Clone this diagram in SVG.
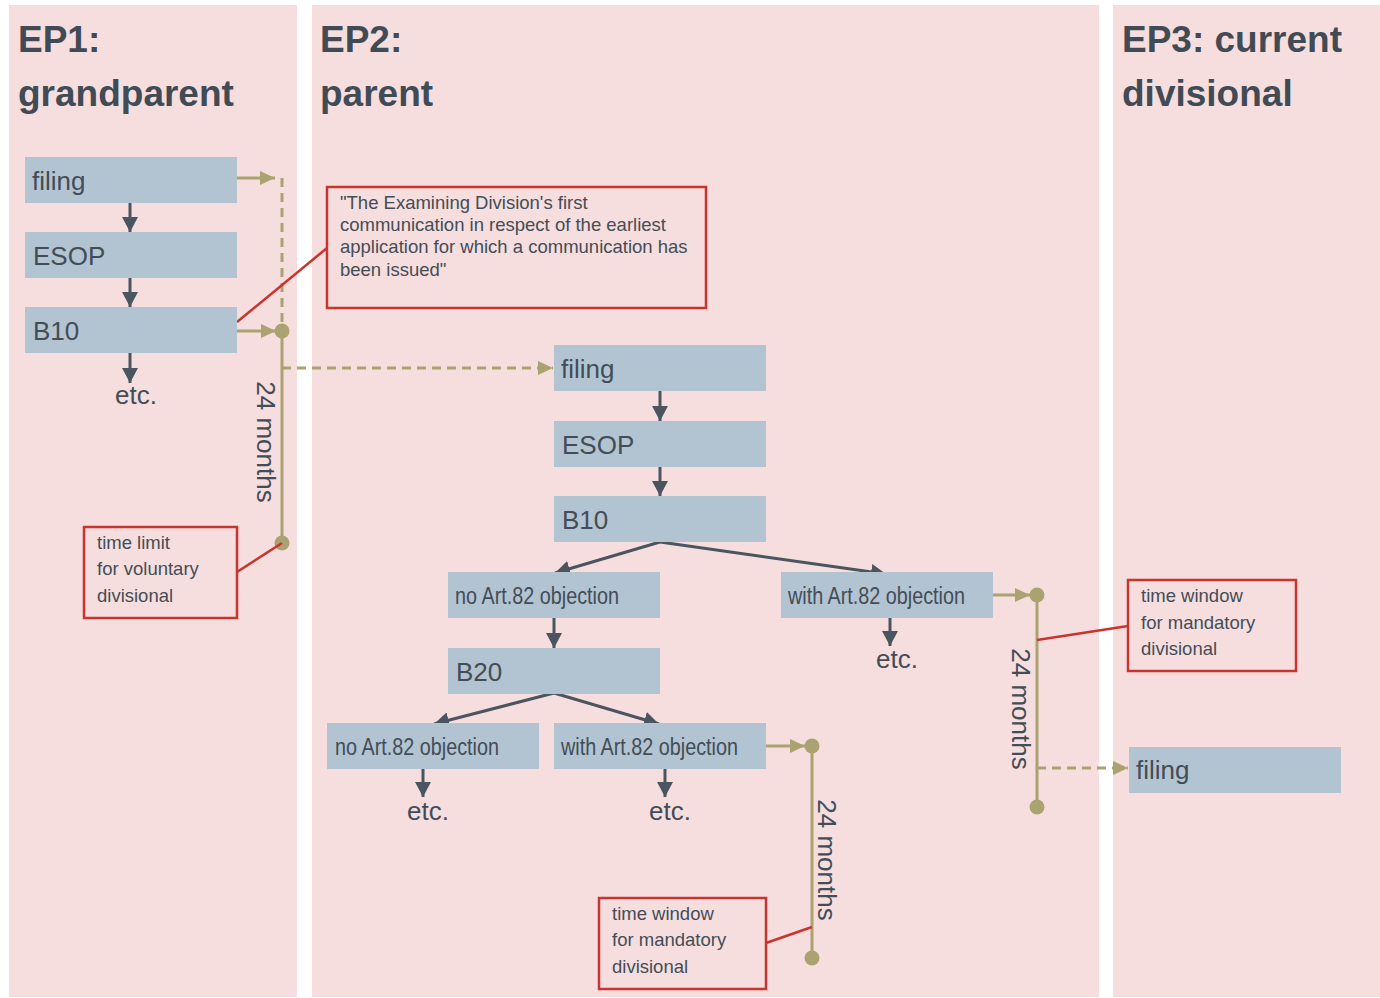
<svg xmlns="http://www.w3.org/2000/svg" width="1380" height="998" viewBox="0 0 1380 998">
<defs>
<style>
.panel{fill:#f6dede}
.box{fill:#b2c4d2}
.h{font-family:"Liberation Sans",Arial,sans-serif;font-weight:bold;font-size:37px;fill:#414b55}
.t{font-family:"Liberation Sans",Arial,sans-serif;font-size:26px;fill:#434d57}
.n{font-family:"Liberation Sans",Arial,sans-serif;font-size:23px;fill:#434d57}
.c{font-family:"Liberation Sans",Arial,sans-serif;font-size:18.5px;fill:#434d57}
.call{fill:none;stroke:#c9342e;stroke-width:2.5}
.rl{stroke:#c9342e;stroke-width:2.5;fill:none}
.dk{stroke:#4a555f;stroke-width:3;fill:none}
.ol{stroke:#aaa271;stroke-width:3;fill:none}
.dash{stroke-dasharray:9,6}
.dot{fill:#aaa271}
</style>
<marker id="ad" markerUnits="userSpaceOnUse" markerWidth="16" markerHeight="16" viewBox="0 0 16 16" refX="15" refY="8" orient="auto"><path d="M0,0 L15,8 L0,16 Z" fill="#4a555f"/></marker>
<marker id="ao" markerUnits="userSpaceOnUse" markerWidth="16" markerHeight="16" viewBox="0 0 16 16" refX="15" refY="8" orient="auto"><path d="M0,1 L15,8 L0,15 Z" fill="#aaa271"/></marker>
</defs>
<rect width="1380" height="998" fill="#ffffff"/>
<g id="panels">
<rect class="panel" x="9" y="5" width="288" height="992"/>
<rect class="panel" x="312" y="5" width="787" height="992"/>
<rect class="panel" x="1113" y="5" width="267" height="992"/>
<text class="h" x="18" y="52">EP1:</text>
<text class="h" x="18" y="106">grandparent</text>
<text class="h" x="320" y="52">EP2:</text>
<text class="h" x="320" y="106">parent</text>
<text class="h" x="1122" y="52">EP3: current</text>
<text class="h" x="1122" y="106">divisional</text>
</g>
<g id="connectors">
<line class="dk" x1="130" y1="203" x2="130" y2="232" marker-end="url(#ad)"/>
<line class="dk" x1="130" y1="278" x2="130" y2="307" marker-end="url(#ad)"/>
<line class="dk" x1="130" y1="353" x2="130" y2="383" marker-end="url(#ad)"/>
<line class="dk" x1="660" y1="391" x2="660" y2="421" marker-end="url(#ad)"/>
<line class="dk" x1="660" y1="467" x2="660" y2="496" marker-end="url(#ad)"/>
<line class="dk" x1="660" y1="542" x2="555" y2="573" marker-end="url(#ad)"/>
<line class="dk" x1="660" y1="542" x2="886" y2="574" marker-end="url(#ad)"/>
<line class="dk" x1="554" y1="618" x2="554" y2="648" marker-end="url(#ad)"/>
<line class="dk" x1="890" y1="618" x2="890" y2="646" marker-end="url(#ad)"/>
<line class="dk" x1="554" y1="693" x2="434" y2="724" marker-end="url(#ad)"/>
<line class="dk" x1="554" y1="693" x2="659" y2="724" marker-end="url(#ad)"/>
<line class="dk" x1="423" y1="769" x2="423" y2="797" marker-end="url(#ad)"/>
<line class="dk" x1="665" y1="769" x2="665" y2="797" marker-end="url(#ad)"/>
<line class="ol" x1="237" y1="178" x2="275" y2="178" marker-end="url(#ao)"/>
<line class="ol dash" x1="282" y1="178" x2="282" y2="326"/>
<line class="ol" x1="237" y1="331" x2="276" y2="331" marker-end="url(#ao)"/>
<line class="ol" x1="282" y1="331" x2="282" y2="543"/>
<line class="ol dash" x1="282" y1="368" x2="553" y2="368" marker-end="url(#ao)"/>
<circle class="dot" cx="282" cy="331" r="7.5"/>
<circle class="dot" cx="282" cy="543" r="7.5"/>
<line class="ol" x1="993" y1="595" x2="1030" y2="595" marker-end="url(#ao)"/>
<line class="ol" x1="1037" y1="595" x2="1037" y2="807"/>
<line class="ol dash" x1="1037" y1="768" x2="1128" y2="768" marker-end="url(#ao)"/>
<circle class="dot" cx="1037" cy="595" r="7.5"/>
<circle class="dot" cx="1037" cy="807" r="7.5"/>
<line class="ol" x1="766" y1="746" x2="805" y2="746" marker-end="url(#ao)"/>
<line class="ol" x1="812" y1="746" x2="812" y2="958"/>
<circle class="dot" cx="812" cy="746" r="7.5"/>
<circle class="dot" cx="812" cy="958" r="7.5"/>
<line class="rl" x1="237" y1="322" x2="327" y2="248"/>
<line class="rl" x1="237" y1="572" x2="282" y2="543"/>
<line class="rl" x1="766" y1="943" x2="812" y2="927"/>
<line class="rl" x1="1037" y1="640" x2="1128" y2="626"/>
<text class="t" transform="translate(257,442) rotate(90)" text-anchor="middle">24 months</text>
<text class="t" transform="translate(818,860) rotate(90)" text-anchor="middle">24 months</text>
<text class="t" transform="translate(1012,709) rotate(90)" text-anchor="middle">24 months</text>
</g>
<g id="ep1-filing"><rect class="box" x="25" y="157" width="212" height="46"/><text class="t" x="32" y="190">filing</text></g>
<g id="ep1-esop"><rect class="box" x="25" y="232" width="212" height="46"/><text class="t" x="33" y="265">ESOP</text></g>
<g id="ep1-b10"><rect class="box" x="25" y="307" width="212" height="46"/><text class="t" x="33" y="340">B10</text></g>
<g id="ep1-etc"><text class="t" x="136" y="404" text-anchor="middle">etc.</text></g>
<g id="note-first-communication"><rect class="call" x="327" y="187" width="379" height="121"/>
<text class="c" x="340" y="209">"The Examining Division's first</text>
<text class="c" x="340" y="231">communication in respect of the earliest</text>
<text class="c" x="340" y="253">application for which a communication has</text>
<text class="c" x="340" y="276">been issued"</text></g>
<g id="note-voluntary"><rect class="call" x="84" y="527" width="153" height="91"/>
<text class="c" x="97" y="549">time limit</text>
<text class="c" x="97" y="575">for voluntary</text>
<text class="c" x="97" y="602">divisional</text></g>
<g id="ep2-filing"><rect class="box" x="554" y="345" width="212" height="46"/><text class="t" x="561" y="378">filing</text></g>
<g id="ep2-esop"><rect class="box" x="554" y="421" width="212" height="46"/><text class="t" x="562" y="454">ESOP</text></g>
<g id="ep2-b10"><rect class="box" x="554" y="496" width="212" height="46"/><text class="t" x="562" y="529">B10</text></g>
<g id="ep2-no-obj"><rect class="box" x="448" y="572" width="212" height="46"/><text class="n" x="455" y="604" textLength="164" lengthAdjust="spacingAndGlyphs">no Art.82 objection</text></g>
<g id="ep2-with-obj"><rect class="box" x="781" y="572" width="212" height="46"/><text class="n" x="788" y="604" textLength="177" lengthAdjust="spacingAndGlyphs">with Art.82 objection</text></g>
<g id="ep2-etc1"><text class="t" x="897" y="668" text-anchor="middle">etc.</text></g>
<g id="ep2-b20"><rect class="box" x="448" y="648" width="212" height="46"/><text class="t" x="456" y="681">B20</text></g>
<g id="ep2-no-obj2"><rect class="box" x="327" y="723" width="212" height="46"/><text class="n" x="335" y="755" textLength="164" lengthAdjust="spacingAndGlyphs">no Art.82 objection</text></g>
<g id="ep2-with-obj2"><rect class="box" x="554" y="723" width="212" height="46"/><text class="n" x="561" y="755" textLength="177" lengthAdjust="spacingAndGlyphs">with Art.82 objection</text></g>
<g id="ep2-etc2"><text class="t" x="428" y="820" text-anchor="middle">etc.</text></g>
<g id="ep2-etc3"><text class="t" x="670" y="820" text-anchor="middle">etc.</text></g>
<g id="note-mandatory-2"><rect class="call" x="599" y="898" width="167" height="91"/>
<text class="c" x="612" y="920">time window</text>
<text class="c" x="612" y="946">for mandatory</text>
<text class="c" x="612" y="973">divisional</text></g>
<g id="note-mandatory-1"><rect class="call" x="1128" y="580" width="168" height="91"/>
<text class="c" x="1141" y="602">time window</text>
<text class="c" x="1141" y="629">for mandatory</text>
<text class="c" x="1141" y="655">divisional</text></g>
<g id="ep3-filing"><rect class="box" x="1129" y="747" width="212" height="46"/><text class="t" x="1136" y="779">filing</text></g>
</svg>
